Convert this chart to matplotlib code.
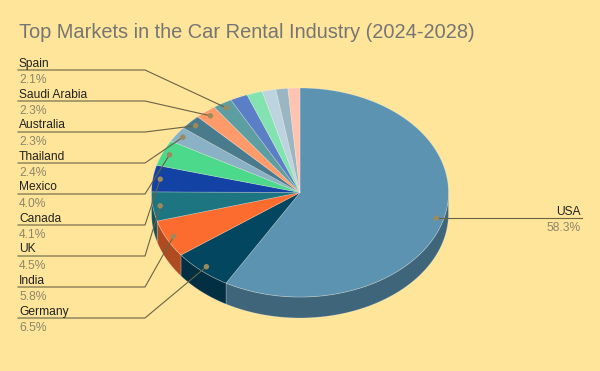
#!/usr/bin/env python3
import matplotlib
matplotlib.use('Agg')
import matplotlib.pyplot as plt
from matplotlib.patches import Polygon, Circle
from matplotlib.colors import to_rgb
import numpy as np

# data
countries = ['USA', 'Germany', 'India', 'UK', 'Canada', 'Mexico', 'Thailand',
             'Australia', 'Saudi Arabia', 'Spain',
             'Other 1', 'Other 2', 'Other 3', 'Other 4', 'Other 5']
shares = [58.3, 6.5, 5.8, 4.5, 4.1, 4.0, 2.4, 2.3, 2.3, 2.1, 1.9, 1.7, 1.5, 1.3, 1.3]
colors = ['#5b93b1', '#03465f', '#fc6c2f', '#1e7582', '#1242a3', '#4cd98b',
          '#8bb1c6', '#4a7b8d', '#ff9a6b', '#5c9ea2', '#5a7fc6', '#82e3b1',
          '#bcd4e0', '#9bb6c3', '#fec3b1']
n_labeled = 10
title = 'Top Markets in the Car Rental Industry (2024-2028)'

BG = '#ffe599'
W, H = 600, 371
cx, cy, rx, ry, depth = 300, 192.5, 148.5, 104.5, 21


def pt(px):
    return px * 72 / 100.0


def rim(theta, r=1.0, dy=0.0):
    t = np.radians(theta)
    return cx + r * rx * np.sin(t), cy - r * ry * np.cos(t) + dy


def darker(c, f=0.69):
    return tuple(v * f for v in to_rgb(c))


fig = plt.figure(figsize=(W / 100, H / 100), dpi=100, facecolor=BG)
ax = fig.add_axes([0, 0, 1, 1])
ax.set_xlim(0, W)
ax.set_ylim(H, 0)
ax.axis('off')

total = sum(shares)
bounds = np.concatenate([[0], np.cumsum(shares) / total * 360])

# side walls (front half only)
for i, c in enumerate(colors):
    a, b = max(bounds[i], 90), min(bounds[i + 1], 270)
    if b <= a:
        continue
    th = np.linspace(a, b, 80)
    xs, ys = rim(th)
    top = np.column_stack([xs, ys])
    bot = np.column_stack([xs, ys + depth])[::-1]
    ax.add_patch(Polygon(np.vstack([top, bot]), closed=True, facecolor=darker(c),
                         edgecolor=(1, 1, 1, 0.25), linewidth=0.6))

# top faces
for i, c in enumerate(colors):
    th = np.linspace(bounds[i], bounds[i + 1], 120)
    xs, ys = rim(th)
    pts = np.vstack([[cx, cy], np.column_stack([xs, ys])])
    ax.add_patch(Polygon(pts, closed=True, facecolor=c,
                         edgecolor=(1, 1, 1, 0.3), linewidth=0.5))

ax.text(19, 37.7, title, fontsize=pt(20), color='#757575',
        family='Liberation Sans', va='baseline', ha='left')

line_c = '#6b6246'
dot_c = '#9c8a5c'
name_c = '#222222'
pct_c = '#8d866a'
lab_fs = pt(12)

mids = (bounds[:-1] + bounds[1:]) / 2

# USA label on right
dx, dy_ = rim(mids[0], 0.95)
ax.plot([dx, 582], [dy_, dy_], color=line_c, lw=0.8)
ax.add_patch(Circle((dx, dy_), 2, color=dot_c, zorder=5))
ax.text(581, dy_ - 3.5, countries[0], fontsize=lab_fs, color=name_c,
        family='Liberation Sans', ha='right', va='baseline')
ax.text(581, dy_ + 12.6, f'{shares[0]:.1f}%', fontsize=lab_fs, color=pct_c,
        family='Liberation Sans', ha='right', va='baseline')

# left labels, stacked from Spain down to Germany
left_idx = list(range(1, n_labeled))[::-1]
for k, i in enumerate(left_idx):
    ly = 70 + 31 * k
    dx, dy_ = rim(mids[i], 0.95)
    ax.plot([18, 145, dx], [ly, ly, dy_], color=line_c, lw=0.8)
    ax.add_patch(Circle((dx, dy_), 2, color=dot_c, zorder=5))
    ax.text(19, ly - 3.5, countries[i], fontsize=lab_fs, color=name_c,
            family='Liberation Sans', ha='left', va='baseline')
    ax.text(19, ly + 12.6, f'{shares[i]:.1f}%', fontsize=lab_fs, color=pct_c,
            family='Liberation Sans', ha='left', va='baseline')

fig.savefig('out.png', dpi=100, facecolor=BG)
